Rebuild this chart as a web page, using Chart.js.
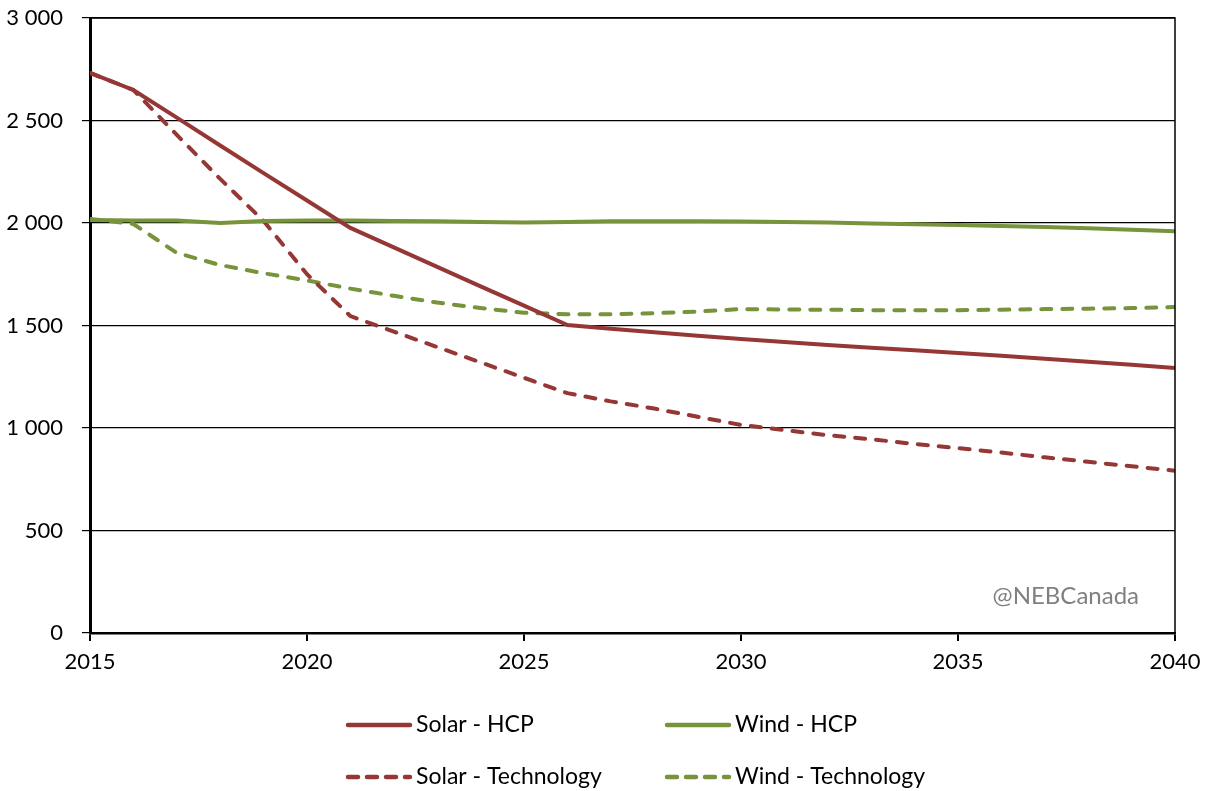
<!DOCTYPE html>
<html>
<head>
<meta charset="utf-8">
<script src="https://cdn.jsdelivr.net/npm/chart.js@4.4.0/dist/chart.umd.min.js"></script>
<style>
html,body{margin:0;padding:0;background:#fff;}
#wrap{width:1208px;height:791px;position:relative;}
</style>
</head>
<body>
<div id="wrap"><canvas id="c" width="1208" height="791"></canvas></div>
<script>
const years = [2015,2016,2017,2018,2019,2020,2021,2022,2023,2024,2025,2026,2027,2028,2029,2030,2031,2032,2033,2034,2035,2036,2037,2038,2039,2040];
const solarHCP = [2732,2649,2514,2378,2243,2110,1976,1881,1786,1691,1597,1502,1484,1467,1450,1434,1419,1405,1392,1379,1366,1352,1338,1323,1308,1293];
const windHCP = [2015,2012,2012,2000,2010,2012,2012,2010,2008,2005,2002,2005,2008,2008,2008,2007,2005,2002,1998,1994,1990,1985,1980,1974,1967,1960];
const solarTech = [2732,2649,2430,2215,2010,1750,1546,1470,1395,1320,1245,1170,1130,1095,1055,1015,990,965,945,922,902,880,857,835,813,792];
const windTech = [2020,1995,1854,1795,1755,1720,1680,1645,1612,1585,1562,1555,1555,1560,1568,1580,1578,1577,1575,1575,1575,1577,1580,1582,1585,1590];
const xTicks = [2015,2020,2025,2030,2035,2040];
const yTicks = [0,500,1000,1500,2000,2500,3000];
const watermark = "@NEBCanada";

const RED = "#953735", GREEN = "#77933C";
const FONT = "Lato, 'Liberation Sans', sans-serif";
const pts = arr => years.map((y,i)=>({x:y,y:arr[i]}));

const datasets = [
  {label:"Solar - HCP", data:pts(solarHCP), borderColor:RED, borderWidth:4, dash:[]},
  {label:"Wind - HCP", data:pts(windHCP), borderColor:GREEN, borderWidth:4, dash:[]},
  {label:"Solar - Technology", data:pts(solarTech), borderColor:RED, borderWidth:4, dash:[10,11]},
  {label:"Wind - Technology", data:pts(windTech), borderColor:GREEN, borderWidth:4, dash:[10,11]}
].map(d=>({label:d.label,data:d.data,borderColor:d.borderColor,backgroundColor:d.borderColor,
  borderWidth:d.borderWidth,borderDash:d.dash,borderCapStyle:d.dash.length?'round':'butt',
  pointRadius:0,tension:0,fill:false}));

const frame = {
  id:'frame',
  afterDraw(chart){
    const {ctx, chartArea:a} = chart;
    ctx.save();
    ctx.strokeStyle = "#000"; ctx.lineWidth = 1.5;
    ctx.beginPath();
    ctx.moveTo(a.left, a.top); ctx.lineTo(a.right, a.top); ctx.lineTo(a.right, a.bottom);
    ctx.stroke();
    ctx.fillStyle = "#808080";
    ctx.font = "24px " + FONT;
    ctx.textAlign = "right"; ctx.textBaseline = "middle";
    ctx.fillText(watermark, 1139, 596);
    const items = chart.data.datasets;
    const pos = [[346,725],[665,725],[346,777],[665,777]];
    ctx.font = "23px " + FONT;
    ctx.textAlign = "left";
    items.forEach((d,i)=>{
      const [x,y] = pos[i];
      ctx.strokeStyle = d.borderColor; ctx.lineWidth = 4.5;
      ctx.lineCap = 'round';
      ctx.setLineDash(d.borderDash.length ? [10,9] : []);
      ctx.beginPath(); ctx.moveTo(x+2,y); ctx.lineTo(x+64,y); ctx.stroke();
      ctx.setLineDash([]);
      ctx.fillStyle = "#000";
      ctx.fillText(d.label, x+70, y);
    });
    ctx.restore();
  }
};

new Chart(document.getElementById('c'), {
  type:'line',
  data:{datasets},
  options:{
    responsive:false, animation:false,
    layout:{padding:{top:18,right:33,left:0,bottom:0}},
    plugins:{legend:{display:false}, tooltip:{enabled:false}},
    scales:{
      x:{type:'linear', min:2015, max:2040,
        afterFit(s){ s.height = 158; s.paddingLeft = 0; s.paddingRight = 0; },
        afterBuildTicks(s){ s.ticks = xTicks.map(v=>({value:v})); },
        ticks:{color:"#000", font:{family:FONT,size:22}, padding:8, maxRotation:0,
          callback:v=>String(v)},
        grid:{drawOnChartArea:false, drawTicks:true, tickLength:8, color:"#000", lineWidth:2},
        border:{color:"#000", width:2.5}
      },
      y:{min:0, max:3000,
        afterFit(s){ s.width = 90; s.paddingTop = 0; s.paddingBottom = 0; },
        afterBuildTicks(s){ s.ticks = yTicks.map(v=>({value:v})); },
        ticks:{color:"#000", font:{family:FONT,size:22}, padding:19,
          callback:v=>v>=1000 ? Math.floor(v/1000)+" "+String(v%1000).padStart(3,"0") : String(v)},
        grid:{color:"#000", lineWidth:1.2, tickLength:8, drawTicks:true},
        border:{color:"#000", width:3}
      }
    }
  },
  plugins:[frame]
});
</script>
</body>
</html>
